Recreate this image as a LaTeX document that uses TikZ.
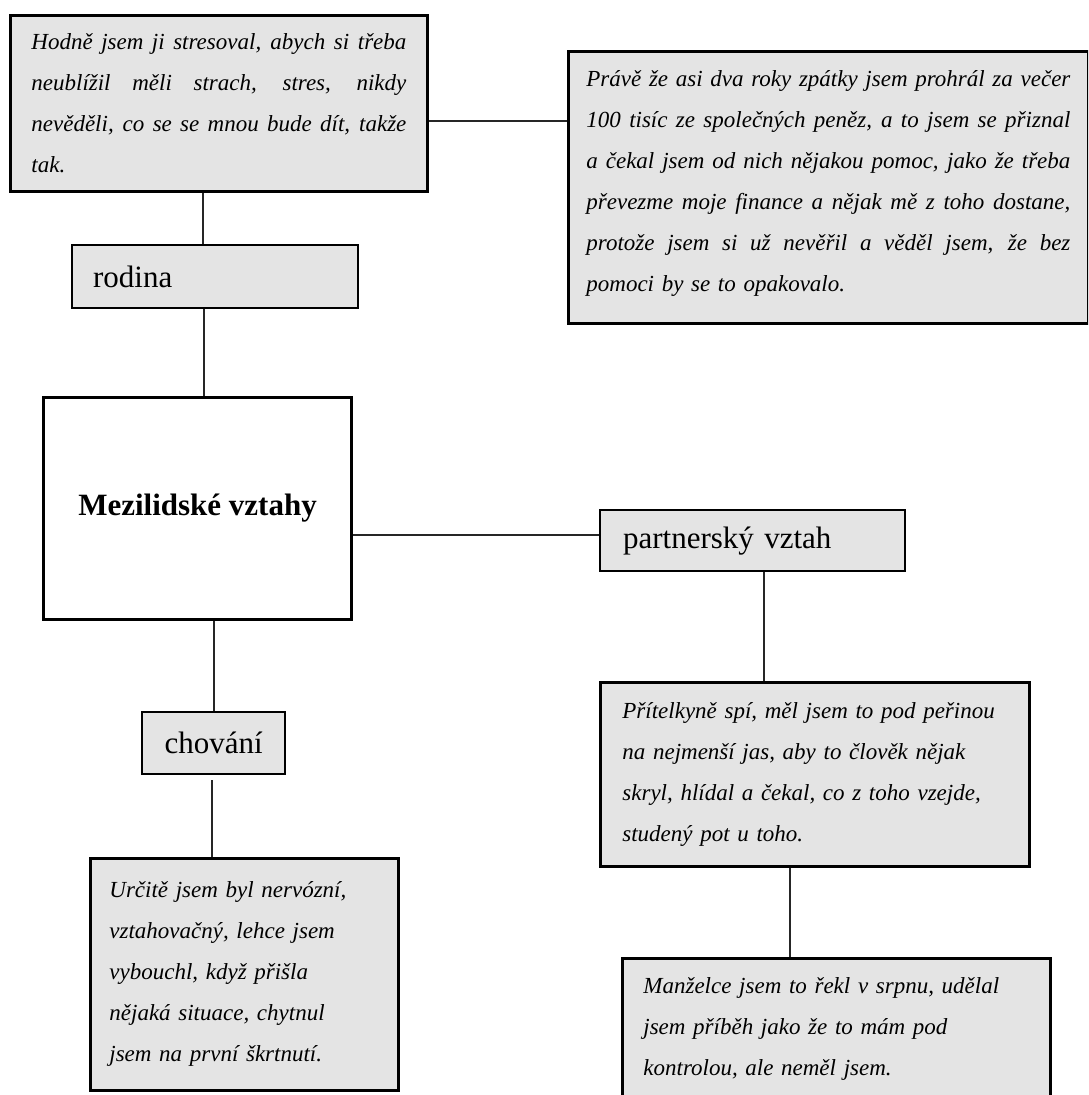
\documentclass[tikz,border=0pt]{standalone}
\usepackage{fontspec}
\setmainfont{Liberation Serif}
\definecolor{boxgray}{RGB}{228,228,228}
\newcommand\jl[1]{\makebox[\hsize][s]{\spaceskip=0pt\xspaceskip=0pt #1}}
\newcommand\lowpad[1]{\rule[-#1]{0pt}{0pt}}
\begin{document}
\begin{tikzpicture}[x=1pt,y=-1pt,
  quote/.style={draw=black, line width=2.8pt, fill=boxgray, anchor=north west, inner sep=0pt, align=left, font=\fontsize{23}{41}\selectfont\itshape},
  lab/.style={draw=black, line width=2.2pt, fill=boxgray, anchor=north west, inner sep=0pt, font=\fontsize{31}{37}\selectfont},
  conn/.style={line width=1.5pt, draw=black!85}]
\useasboundingbox (0,0) rectangle (1088,1095);
\clip (0,0) rectangle (1088,1095);

% boxes
\node[quote, minimum width=417pt, minimum height=176pt, text width=375pt] (tl) at (9,14)
 {\jl{Hodně jsem ji stresoval, abych si třeba}\\
  \jl{neublížil měli strach, stres, nikdy}\\
  \jl{nevěděli, co se se mnou bude dít, takže}\\
  tak.};
\node[quote, minimum width=520pt, minimum height=272pt, text width=484pt] (tr) at (567,50)
 {\jl{Právě že asi dva roky zpátky jsem prohrál za večer}\\
  \jl{100 tisíc ze společných peněz, a to jsem se přiznal}\\
  \jl{a čekal jsem od nich nějakou pomoc, jako že třeba}\\
  \jl{převezme moje finance a nějak mě z toho dostane,}\\
  \jl{protože jsem si už nevěřil a věděl jsem, že bez}\\
  pomoci by se to opakovalo.\lowpad{12pt}};
\node[lab, minimum width=286pt, minimum height=63pt, text width=244pt, align=left] (rodina) at (71,244) {rodina};
\node[draw=black, line width=3pt, fill=white, anchor=north west, inner sep=0pt, minimum width=308pt, minimum height=222pt, font=\fontsize{31}{37}\selectfont\bfseries] (mz) at (42,396) {Mezilidské vztahy};
\node[lab, minimum width=305pt, minimum height=61pt, text width=259pt, align=left] (ps) at (599,509) {partnerský vztah};
\node[lab, minimum width=143pt, minimum height=62pt] (ch) at (141,711) {chování};
\node[quote, minimum width=429pt, minimum height=184pt, text width=385pt] (pr) at (599,681)
 {Přítelkyně spí, měl jsem to pod peřinou\\
  na nejmenší jas, aby to člověk nějak\\
  skryl, hlídal a čekal, co z toho vzejde,\\
  studený pot u toho.};
\node[quote, minimum width=308pt, minimum height=232pt, text width=270pt] (ur) at (89,857)
 {Určitě jsem byl nervózní,\\
  vztahovačný, lehce jsem\\
  vybouchl, když přišla\\
  nějaká situace, chytnul\\
  jsem na první škrtnutí.};
\node[quote, minimum width=428pt, minimum height=170pt, text width=386pt] (mn) at (621,957)
 {Manželce jsem to řekl v srpnu, udělal\\
  jsem příběh jako že to mám pod\\
  kontrolou, ale neměl jsem.\lowpad{34pt}};

% connectors
\draw[conn] (tl.south -| 203,0) -- (rodina.north -| 203,0);
\draw[conn] (rodina.south -| 204,0) -- (mz.north -| 204,0);
\draw[conn] (tl.east |- 0,121) -- (tr.west |- 0,121);
\draw[conn] (mz.east |- 0,535) -- (ps.west |- 0,535);
\draw[conn] (mz.south -| 214,0) -- (ch.north -| 214,0);
\draw[conn, shorten <=5pt] (ch.south -| 212,0) -- (ur.north -| 212,0);
\draw[conn] (ps.south -| 764,0) -- (pr.north -| 764,0);
\draw[conn] (pr.south -| 790,0) -- (mn.north -| 790,0);
\end{tikzpicture}
\end{document}
